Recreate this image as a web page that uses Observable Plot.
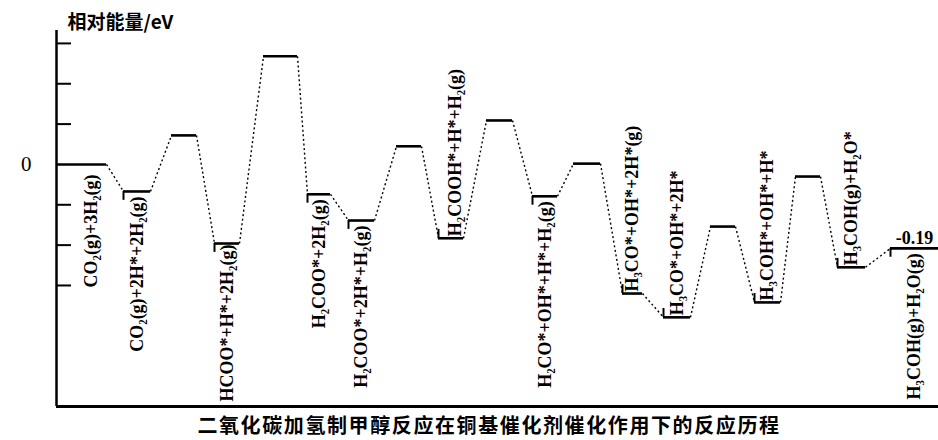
<!DOCTYPE html>
<html>
<head>
<meta charset="utf-8">
<script src="https://cdn.jsdelivr.net/npm/d3@7"></script>
<script src="https://cdn.jsdelivr.net/npm/@observablehq/plot@0.6"></script>
<style>
  html, body { margin: 0; padding: 0; background: #fff; }
  #chart { width: 938px; }
  #caption {
    width: 938px; height: 32px; line-height: 34px;
    box-sizing: border-box; padding-left: 40px;
    text-align: center; font-family: "Noto Sans CJK SC", sans-serif;
    font-weight: bold; font-size: 20px; letter-spacing: 1.6px; color: #000;
  }
</style>
</head>
<body>
<div id="chart"></div>
<div id="caption">二氧化碳加氢制甲醇反应在铜基催化剂催化作用下的反应历程</div>
<script>
// ---- data ----
const levelLabels = [
  "CO₂(g)+3H₂(g)",
  "CO₂(g)+2H*+2H₂(g)",
  "HCOO*+H*+2H₂(g)",
  "H₂COO*+2H₂(g)",
  "H₂COO*+2H*+H₂(g)",
  "H₂COOH*+H*+H₂(g)",
  "H₂CO*+OH*+H*+H₂(g)",
  "H₃CO*+OH*+2H*(g)",
  "H₃CO*+OH*+2H*",
  "H₃COH*+OH*+H*",
  "H₃COH(g)+H₂O*",
  "H₃COH(g)+H₂O(g)"
];
// reaction coordinate (start / end of each level)
const levelStart  = [1, 67, 158, 251, 292, 382, 476, 566, 607, 698, 781, 834];
const levelEnd    = [50, 94, 183, 274, 318, 407, 501, 586, 634, 724, 809, 882];
// relative energy (axis tick units)
const levelEnergy = [0, -0.67, -1.96, -0.74, -1.39, -1.83, -0.79, -3.2, -3.79, -3.42, -2.55, -2.08];
const labelSide   = ["below","below","below","below","below","above","below","above","above","above","above","below"];

// transition states: index of the level they follow
const tsAfter  = [1, 2, 4, 5, 6, 8, 9];
const tsStart  = [115, 207, 340, 430, 517, 654, 739];
const tsEnd    = [140, 241, 365, 456, 544, 679, 764];
const tsEnergy = [0.72, 2.68, 0.45, 1.09, 0.02, -1.54, -0.3];

const yTicks = [-3, -2, -1, 1, 2, 3];
const finalValueLabel = "-0.19";

// ---- build tables ----
const levels = levelLabels.map((label, i) => ({
  label, x1: levelStart[i], x2: levelEnd[i], e: levelEnergy[i], side: labelSide[i], i
}));
const sequence = [];
levels.forEach((lv, i) => {
  sequence.push(lv);
  const t = tsAfter.indexOf(i);
  if (t >= 0) sequence.push({x1: tsStart[t], x2: tsEnd[t], e: tsEnergy[t]});
});
const links = sequence.slice(1).map((s, k) => ({
  xa: sequence[k].x2, ya: sequence[k].e, xb: s.x1, yb: s.e
}));
const labelDx = {0: 9, 5: 4};
const labelDy = {0: 10, 2: 1};
const bracketed = levels.filter(d => d.i > 0);

const serif = "Liberation Serif, Times New Roman, DejaVu Serif, serif";
const bracketLen = 0.22;

const belowLabels = levels.filter(d => d.side === "below");
const labelText = (data, anchor) => data.map(d => Plot.text([d], {
  x: (d.x1 + d.x2) / 2 + (labelDx[d.i] || 0), y: d.e, text: [d.label],
  rotate: -90, textAnchor: anchor, lineAnchor: "middle",
  dy: anchor === "end" ? (labelDy[d.i] ?? 5) : -2,
  fontSize: 18, fontWeight: "bold", fontFamily: serif, fill: "#000"
}));

const chart = Plot.plot({
  width: 938,
  height: 408,
  marginLeft: 56,
  marginRight: 0,
  marginTop: 30,
  marginBottom: 2,
  x: {domain: [0, 882], axis: null},
  y: {domain: [-6, 3.32], axis: null},
  marks: [
    // axes
    Plot.ruleX([0], {y1: -6, y2: 3.32, stroke: "#000", strokeWidth: 2.5}),
    Plot.ruleY([-6], {x1: 0, x2: 882, stroke: "#000", strokeWidth: 3}),
    Plot.ruleY(yTicks, {x1: 0, x2: 15, stroke: "#000", strokeWidth: 2}),
    Plot.axisY([0], {tickSize: 0, tickPadding: 25, fontSize: 21, fontFamily: serif, label: null, tickFormat: d => "0"}),
    Plot.text(["相对能量/eV"], {
      frameAnchor: "top-left", dx: 11, dy: -8, textAnchor: "start", lineAnchor: "middle",
      fontSize: 19, fontWeight: "bold", fontFamily: "Noto Sans CJK SC, sans-serif", fill: "#000"
    }),
    // dotted connectors
    Plot.link(links, {x1: "xa", y1: "ya", x2: "xb", y2: "yb",
      stroke: "#000", strokeWidth: 1.4, strokeDasharray: "2,2.6"}),
    // energy levels and transition states
    Plot.ruleY(sequence, {x1: "x1", x2: "x2", y: "e", stroke: "#000", strokeWidth: 2.6}),
    // small brackets at the left end of labelled levels
    Plot.ruleX(bracketed, {x: "x1", y1: "e",
      y2: d => d.side === "below" ? d.e - bracketLen : d.e + bracketLen,
      stroke: "#000", strokeWidth: 2}),
    // level labels
    ...labelText(belowLabels, "end"),
    ...labelText(levels.filter(d => d.side === "above"), "start"),
    // final value
    Plot.text([levels[levels.length - 1]], {
      x: d => (d.x1 + d.x2) / 2, y: "e", text: () => finalValueLabel,
      textAnchor: "middle", lineAnchor: "bottom", dy: -4,
      fontSize: 18, fontWeight: "bold", fontFamily: serif, fill: "#000"
    })
  ]
});
document.getElementById("chart").appendChild(chart);
</script>
</body>
</html>
